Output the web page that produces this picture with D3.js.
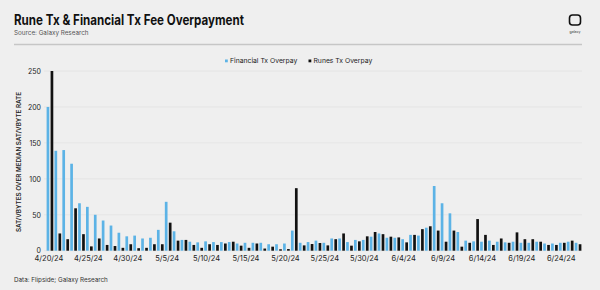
<!DOCTYPE html>
<html>
<head>
<meta charset="utf-8">
<script src="https://cdn.jsdelivr.net/npm/d3@7"></script>
<style>
  body { margin: 0; background: #efefef; }
  svg { display: block; font-family: Inter, "Noto Sans", sans-serif; }
</style>
</head>
<body>
<script>
// day categories, 4/20/24 .. 6/26/24
var dates = [
  "4/20/24","4/21/24","4/22/24","4/23/24","4/24/24","4/25/24","4/26/24","4/27/24","4/28/24","4/29/24","4/30/24",
  "5/1/24","5/2/24","5/3/24","5/4/24","5/5/24","5/6/24","5/7/24","5/8/24","5/9/24","5/10/24",
  "5/11/24","5/12/24","5/13/24","5/14/24","5/15/24","5/16/24","5/17/24","5/18/24","5/19/24","5/20/24",
  "5/21/24","5/22/24","5/23/24","5/24/24","5/25/24","5/26/24","5/27/24","5/28/24","5/29/24","5/30/24","5/31/24",
  "6/1/24","6/2/24","6/3/24","6/4/24","6/5/24","6/6/24","6/7/24","6/8/24","6/9/24","6/10/24",
  "6/11/24","6/12/24","6/13/24","6/14/24","6/15/24","6/16/24","6/17/24","6/18/24","6/19/24","6/20/24",
  "6/21/24","6/22/24","6/23/24","6/24/24","6/25/24","6/26/24"
];
var tickDates = ["4/20/24","4/25/24","4/30/24","5/5/24","5/10/24","5/15/24","5/20/24","5/25/24","5/30/24","6/4/24","6/9/24","6/14/24","6/19/24","6/24/24"];

var financialOverpay = [
  200, 139, 140, 121, 66, 61, 50, 42, 35, 25, 20,
  21, 17, 18, 29, 68, 27, 15, 12.5, 11.6, 13,
  12, 12, 12, 10, 11, 11, 11, 9, 9, 10,
  28, 11, 12, 14, 11, 17, 17, 12, 15, 15, 19.5,
  24, 18, 18, 16, 22, 21, 32, 90, 66, 52,
  26, 14, 13, 12.5, 14, 12.5, 11.6, 12.5, 11, 11,
  12.5, 10, 10, 11, 12.5, 11
];
var runesOverpay = [
  250, 24, 16, 59, 23, 6, 17, 8, 6.5, 4, 9,
  3.5, 4, 9, 9, 39, 14, 15, 8, 4, 9,
  8, 10, 12.5, 7, 4, 10, 3, 5.6, 2, 2.3,
  87, 7.4, 9.3, 10.7, 7.4, 16, 24, 7, 13, 20, 26,
  23, 19.5, 18.5, 11.6, 22, 30, 34, 28, 12.5, 28,
  5.6, 11, 44, 22, 8, 17, 11, 25.5, 16, 16,
  12.5, 8, 8, 11, 14, 9
];
var seriesNames = ["Financial Tx Overpay", "Runes Tx Overpay"];
var seriesColors = ["#5cb3e6", "#111111"];
var yTicks = [0, 50, 100, 150, 200, 250];

var width = 600, height = 290;

var svg = d3.select("body").append("svg")
  .attr("width", width)
  .attr("height", height);

svg.append("rect").attr("width", width).attr("height", height).attr("fill", "#efefef");

// header
svg.append("text").attr("x", 14).attr("y", 25)
  .attr("font-size", 14).attr("font-weight", 700).attr("fill", "#111")
  .attr("textLength", 230).attr("lengthAdjust", "spacingAndGlyphs")
  .text("Rune Tx & Financial Tx Fee Overpayment");
svg.append("text").attr("x", 14).attr("y", 35)
  .attr("font-size", 6.3).attr("fill", "#555")
  .text("Source: Galaxy Research");
svg.append("line").attr("x1", 14).attr("x2", 582).attr("y1", 44.5).attr("y2", 44.5)
  .attr("stroke", "#c6c6c6").attr("stroke-width", 1.5);

// logo
svg.append("rect").attr("x", 569.5).attr("y", 15).attr("width", 11).attr("height", 10).attr("rx", 3)
  .attr("fill", "none").attr("stroke", "#111").attr("stroke-width", 1.6);
svg.append("text").attr("x", 575).attr("y", 33).attr("text-anchor", "middle")
  .attr("font-size", 3.5).attr("fill", "#333").text("galaxy");

// scales
var x = d3.scaleBand().domain(dates).range([46, 582]);
var xs = d3.scaleBand().domain(seriesNames).range([0, x.bandwidth()])
  .paddingInner(0.33).paddingOuter(0.15);
var y = d3.scaleLinear().domain([0, 250]).range([250.7, 71]);

// grid
svg.append("g").selectAll("line").data(yTicks).enter().append("line")
  .attr("x1", 44).attr("x2", 582)
  .attr("y1", function(d) { return y(d); }).attr("y2", function(d) { return y(d); })
  .attr("stroke", "#e2e2e2").attr("stroke-width", 0.8);

// y axis
var yAxis = svg.append("g").attr("transform", "translate(41,0)")
  .call(d3.axisLeft(y).tickValues(yTicks).tickSize(0).tickPadding(0));
yAxis.select(".domain").remove();
yAxis.selectAll("text").attr("font-size", 7).attr("fill", "#222")
  .attr("font-family", "Inter, sans-serif");

svg.append("text")
  .attr("transform", "translate(21," + 162 + ") rotate(-90)")
  .attr("text-anchor", "middle").attr("font-size", 6.3).attr("font-weight", 600).attr("fill", "#222")
  .text("SAT/VBYTES OVER MEDIAN SAT/VBYTE RATE");

// x axis
var xAxis = svg.append("g").attr("transform", "translate(-1," + 256 + ")")
  .call(d3.axisBottom(x).tickValues(tickDates).tickSize(0).tickPadding(0));
xAxis.select(".domain").remove();
xAxis.selectAll("text").attr("font-size", 7.5).attr("fill", "#222")
  .attr("font-family", "Inter, sans-serif");

// bars
var rows = dates.map(function(d, i) {
  return { date: d, values: [financialOverpay[i], runesOverpay[i]] };
});
var groups = svg.append("g").selectAll("g").data(rows).enter().append("g")
  .attr("transform", function(d) { return "translate(" + x(d.date) + ",0)"; });
groups.selectAll("rect")
  .data(function(d) { return d.values.map(function(v, k) { return { k: k, v: v }; }); })
  .enter().append("rect")
  .attr("x", function(d) { return xs(seriesNames[d.k]); })
  .attr("width", xs.bandwidth())
  .attr("y", function(d) { return y(d.v); })
  .attr("height", function(d) { return y(0) - y(d.v); })
  .attr("fill", function(d) { return seriesColors[d.k]; });

// legend
var legendX = [225, 308.5];
var legend = svg.append("g").selectAll("g").data(seriesNames).enter().append("g")
  .attr("transform", function(d, i) { return "translate(" + legendX[i] + ",59.5)"; });
legend.append("rect").attr("width", 2.8).attr("height", 2.8)
  .attr("fill", function(d, i) { return seriesColors[i]; });
legend.append("text").attr("x", 5).attr("y", 3.6)
  .attr("font-size", 6.8).attr("fill", "#222").text(function(d) { return d; });

// footer
svg.append("text").attr("x", 14).attr("y", 282)
  .attr("font-size", 6.3).attr("fill", "#333")
  .text("Data: Flipside; Galaxy Research");
</script>
</body>
</html>
